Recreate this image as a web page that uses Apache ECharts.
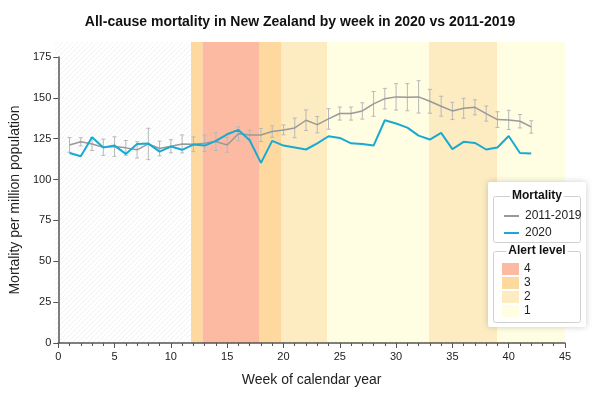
<!DOCTYPE html>
<html>
<head>
<meta charset="utf-8">
<script src="https://cdn.jsdelivr.net/npm/echarts@6/dist/echarts.min.js"></script>
<style>
html, body { margin: 0; padding: 0; background: #fff; }
#chart { width: 600px; height: 398px; }
</style>
</head>
<body>
<div id="chart"></div>
<script>
// weeks of the year
var weeks = [1, 2, 3, 4, 5, 6, 7, 8, 9, 10, 11, 12, 13, 14, 15, 16, 17, 18, 19, 20, 21,
	22, 23, 24, 25, 26, 27, 28, 29, 30, 31, 32, 33, 34, 35, 36, 37, 38, 39, 40, 41, 42];

// 2011-2019 mean and half width of its error bar
var baseline = [121.2, 123.1, 121.8, 119.8, 120.2, 119.4, 118.2, 121.8, 119.0, 120.4, 121.8,
	121.6, 122.2, 123.3, 121.2, 128.0, 127.3, 127.3, 129.4, 130.4, 131.6, 136.3, 133.6, 137.1,
	140.4, 140.4, 142.0, 146.3, 149.5, 150.6, 150.4, 150.6, 147.9, 144.9, 142.0, 143.6, 144.2,
	140.4, 136.7, 136.5, 135.7, 132.2];
var baselineErr = [4.5, 2.5, 4.0, 5.0, 6.0, 4.5, 5.0, 9.6, 4.5, 4.0, 5.5, 4.5, 5.0, 5.5, 4.5,
	4.3, 3.0, 4.0, 3.5, 3.0, 6.0, 6.3, 5.0, 6.3, 4.0, 4.0, 5.0, 7.6, 6.3, 8.1, 8.3, 9.9, 7.3,
	6.1, 5.3, 6.1, 4.6, 4.6, 4.8, 5.9, 4.1, 3.8];

// 2020
var mort2020 = [116.3, 114.3, 125.9, 119.6, 120.8, 115.7, 121.8, 122.0, 117.1, 120.2, 118.2,
	121.4, 120.8, 123.7, 127.7, 130.4, 124.1, 110.2, 123.7, 120.8, 119.6, 118.4, 122.2, 126.5,
	125.5, 122.2, 121.8, 120.8, 136.3, 134.3, 131.8, 126.9, 124.5, 128.6, 118.6, 123.1, 122.4,
	118.4, 119.6, 126.7, 116.3, 115.9];

// alert level periods [from week, to week]
var noAlert = [[0, 12]];
var alert4 = [[13, 18]];
var alert3 = [[12, 13], [18, 20]];
var alert2 = [[20, 24], [33, 39]];
var alert1 = [[24, 33], [39, 45]];

// axes
var xMax = 45, xStep = 5;
var yMax = 175, yStep = 25;

var font = 'Arial, "Liberation Sans", sans-serif';

// hatch for weeks before any alert
var hatch = document.createElement('canvas');
hatch.width = 5;
hatch.height = 5;
var hctx = hatch.getContext('2d');
hctx.fillStyle = '#fff';
hctx.fillRect(0, 0, 5, 5);
hctx.strokeStyle = '#f1f1f1';
hctx.lineWidth = 1;
hctx.beginPath();
hctx.moveTo(0, 5); hctx.lineTo(5, 0);
hctx.moveTo(-2.5, 2.5); hctx.lineTo(2.5, -2.5);
hctx.moveTo(2.5, 7.5); hctx.lineTo(7.5, 2.5);
hctx.stroke();

function band(name, spans, color) {
	return {
		name: name,
		type: 'custom',
		xAxisIndex: 1,
		yAxisIndex: 1,
		z: 1,
		silent: true,
		itemStyle: { color: color },
		encode: { x: [0, 1] },
		data: spans,
		renderItem: function(params, api) {
			var a = api.coord([api.value(0), 1]);
			var b = api.coord([api.value(1), 0]);
			return {
				type: 'rect',
				shape: { x: a[0], y: a[1], width: b[0] - a[0], height: b[1] - a[1] },
				style: { fill: color }
			};
		}
	};
}

var lineData = weeks.map(function(w, i) { return [w, baseline[i]]; });
var errData = weeks.map(function(w, i) { return [w, baseline[i] - baselineErr[i], baseline[i] + baselineErr[i]]; });
var data2020 = weeks.map(function(w, i) { return [w, mort2020[i]]; });

var chart = echarts.init(document.getElementById('chart'));

var option = {
	animation: false,
	textStyle: { fontFamily: font },
	title: {
		text: 'All-cause mortality in New Zealand by week in 2020 vs 2011-2019',
		left: 'center',
		top: 10,
		textStyle: { fontSize: 14, fontWeight: 'bold', color: '#111', fontFamily: font }
	},
	grid: [
		{ left: 55, right: 35, top: 57, bottom: 55 },
		{ left: 55, right: 35, top: 42, bottom: 55 }
	],
	xAxis: [{
		type: 'value',
		gridIndex: 0,
		min: 0,
		max: xMax,
		interval: xStep,
		z: 5,
		name: 'Week of calendar year',
		nameLocation: 'middle',
		nameGap: 30,
		nameTextStyle: { fontSize: 14, color: '#222', fontFamily: font },
		axisLine: { lineStyle: { color: '#555', width: 1.5 } },
		axisTick: { length: 5, lineStyle: { color: '#555' } },
		minorTick: { show: true, splitNumber: 5, length: 3, lineStyle: { color: '#555' } },
		axisLabel: { fontSize: 11, color: '#222', margin: 8 },
		splitLine: { show: false }
	}, {
		type: 'value',
		gridIndex: 1,
		min: 0,
		max: xMax,
		show: false
	}],
	yAxis: [{
		type: 'value',
		gridIndex: 0,
		min: 0,
		max: yMax,
		interval: yStep,
		z: 5,
		name: 'Mortality per million population',
		nameLocation: 'middle',
		nameGap: 23,
		nameTextStyle: { fontSize: 14, color: '#222', fontFamily: font },
		axisLine: { show: true, lineStyle: { color: '#555', width: 1.5 } },
		axisTick: { show: true, length: 5, lineStyle: { color: '#555' } },
		axisLabel: { fontSize: 11, color: '#222', margin: 7 },
		splitLine: { show: false }
	}, {
		type: 'value',
		gridIndex: 1,
		min: 0,
		max: 1,
		show: false
	}],
	legend: [{
		data: ['2011-2019', '2020'],
		orient: 'vertical',
		left: 499,
		top: 205,
		z: 20,
		icon: 'rect',
		itemWidth: 15,
		itemHeight: 2,
		itemGap: 5,
		selectedMode: false,
		textStyle: { fontSize: 12, color: '#222', fontFamily: font, padding: [0, 0, 0, 1] }
	}, {
		data: ['4', '3', '2', '1'],
		orient: 'vertical',
		left: 497,
		top: 258,
		z: 20,
		icon: 'rect',
		itemWidth: 17,
		itemHeight: 12,
		itemGap: 2,
		selectedMode: false,
		textStyle: { fontSize: 12, color: '#222', fontFamily: font }
	}],
	graphic: [{
		type: 'rect',
		z: 10,
		shape: { x: 488, y: 182, width: 98, height: 145, r: 2 },
		style: { fill: '#fff', shadowBlur: 6, shadowColor: 'rgba(0,0,0,0.2)' }
	}, {
		type: 'rect',
		z: 11,
		shape: { x: 493.5, y: 196.5, width: 87, height: 46, r: 2 },
		style: { fill: null, stroke: '#d0d0d0', lineWidth: 1 }
	}, {
		type: 'rect',
		z: 11,
		shape: { x: 493.5, y: 251.5, width: 87, height: 71, r: 2 },
		style: { fill: null, stroke: '#d0d0d0', lineWidth: 1 }
	}, {
		type: 'text',
		z: 12,
		x: 537,
		y: 196,
		style: {
			text: 'Mortality', fill: '#111', font: 'bold 12px ' + font,
			align: 'center', verticalAlign: 'middle', backgroundColor: '#fff', padding: [0, 2]
		}
	}, {
		type: 'text',
		z: 12,
		x: 537,
		y: 251,
		style: {
			text: 'Alert level', fill: '#111', font: 'bold 12px ' + font,
			align: 'center', verticalAlign: 'middle', backgroundColor: '#fff', padding: [0, 2]
		}
	}],
	series: [
		band('none', noAlert, { image: hatch, repeat: 'repeat' }),
		band('4', alert4, '#fcbaa2'),
		band('3', alert3, '#fdd9a0'),
		band('2', alert2, '#fdecc1'),
		band('1', alert1, '#fffde2'),
		{
			name: 'err',
			type: 'custom',
			xAxisIndex: 0,
			yAxisIndex: 0,
			z: 3,
			silent: true,
			encode: { x: 0, y: [1, 2] },
			data: errData,
			renderItem: function(params, api) {
				var top = api.coord([api.value(0), api.value(2)]);
				var bot = api.coord([api.value(0), api.value(1)]);
				var st = { stroke: '#b8b8b8', lineWidth: 1 };
				return {
					type: 'group',
					children: [
						{ type: 'line', shape: { x1: top[0], y1: top[1], x2: bot[0], y2: bot[1] }, style: st },
						{ type: 'line', shape: { x1: top[0] - 2, y1: top[1], x2: top[0] + 2, y2: top[1] }, style: st },
						{ type: 'line', shape: { x1: bot[0] - 2, y1: bot[1], x2: bot[0] + 2, y2: bot[1] }, style: st }
					]
				};
			}
		},
		{
			name: '2011-2019',
			type: 'line',
			xAxisIndex: 0,
			yAxisIndex: 0,
			z: 4,
			symbol: 'none',
			data: lineData,
			itemStyle: { color: '#999' },
			lineStyle: { color: '#999', width: 1.5 }
		},
		{
			name: '2020',
			type: 'line',
			xAxisIndex: 0,
			yAxisIndex: 0,
			z: 5,
			symbol: 'none',
			data: data2020,
			itemStyle: { color: '#19aad2' },
			lineStyle: { color: '#19aad2', width: 2 }
		}
	]
};

chart.setOption(option);
</script>
</body>
</html>
